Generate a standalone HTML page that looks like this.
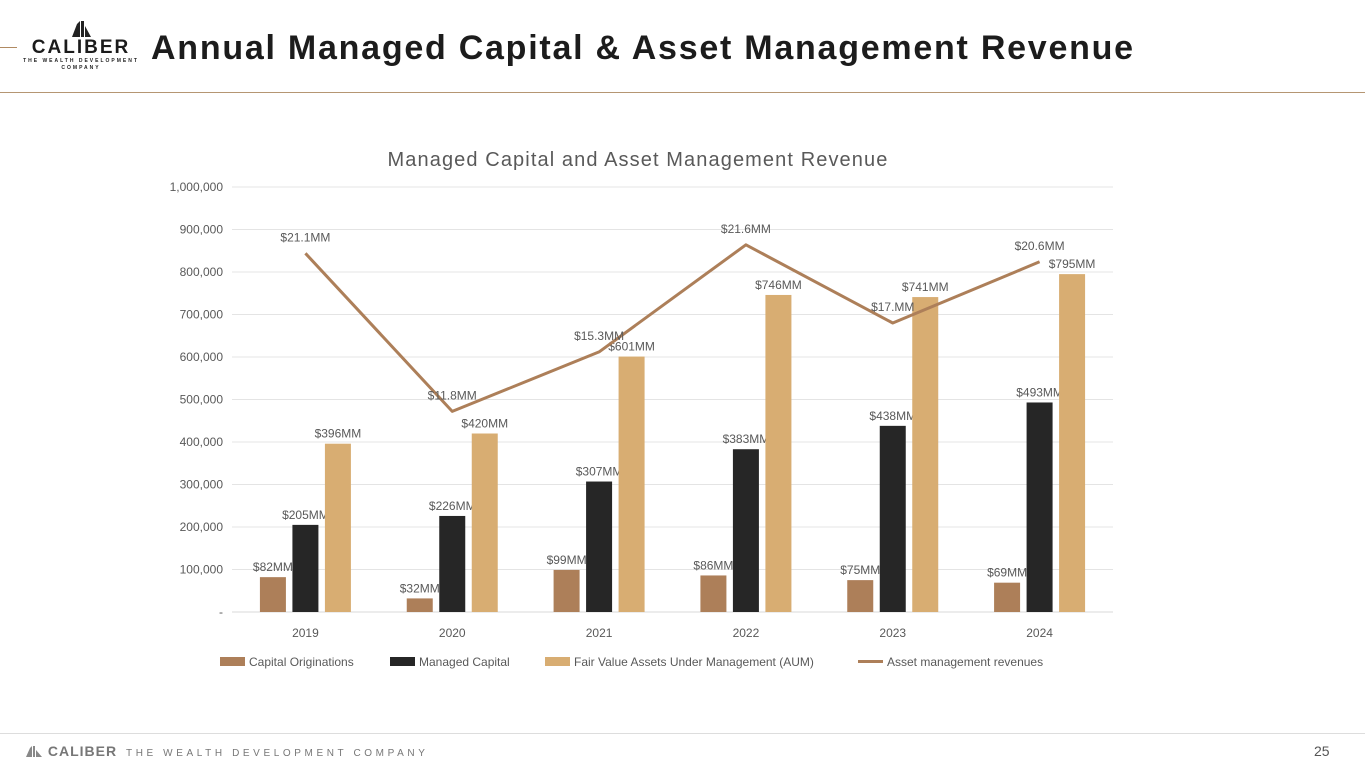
<!DOCTYPE html>
<html><head><meta charset="utf-8"><style>
html,body{margin:0;padding:0;background:#fff;}
body{width:1365px;height:768px;position:relative;overflow:hidden;font-family:"Liberation Sans","DejaVu Sans",sans-serif;}
.abs{position:absolute;}
</style></head><body>
<div class="abs" style="left:0;top:47px;width:17px;height:1px;background:#b08a62"></div>
<div class="abs" style="left:22px;top:18px;width:118px;height:56px;text-align:center">
  <svg width="24" height="20" style="display:block;margin:0 auto"><path d="M3 19 L8 6 L11 3 L11 19 Z M12 3 L15 3 L15 19 L12 19 Z M16 8 L22 19 L16 19Z" fill="#222"/></svg>
  <div style="font-weight:bold;font-size:19px;letter-spacing:2px;color:#1b1b1b;line-height:20px">CALIBER</div>
  <div style="font-size:5px;letter-spacing:2px;color:#222;line-height:7px;font-weight:bold">THE WEALTH DEVELOPMENT<br>COMPANY</div>
</div>
<div class="abs" style="left:151px;top:29px;font-size:34px;font-weight:bold;color:#1c1c1c;white-space:nowrap;letter-spacing:1.75px">Annual Managed Capital &amp; Asset Management Revenue</div>
<div class="abs" style="left:0;top:92px;width:1365px;height:1px;background:#b59673"></div>

<svg class="abs" id="chart" style="left:0;top:0" width="1365" height="768"></svg>

<div class="abs" style="left:0;top:733px;width:1365px;height:1px;background:#ddd"></div>
<div class="abs" style="left:25px;top:743px;font-size:14px;font-weight:bold;color:#777;letter-spacing:1px;white-space:nowrap">
  <svg width="18" height="12" style="vertical-align:-1px"><path d="M1 12 L5 3 L7 1 L7 12Z M8 1 L10 1 L10 12 L8 12Z M11 5 L17 12 L11 12Z" fill="#888"/></svg> CALIBER <span style="font-weight:normal;font-size:10px;letter-spacing:3.6px;margin-left:4px">THE WEALTH DEVELOPMENT COMPANY</span>
</div>
<div class="abs" style="left:1314px;top:743px;font-size:14px;color:#555">25</div>

<script>
const years=["2019","2020","2021","2022","2023","2024"];
const capitalOriginations=[82000,32000,99000,86000,75000,69000];
const managedCapital=[205000,226000,307000,383000,438000,493000];
const aum=[396000,420000,601000,746000,741000,795000];
const revenues=[21.1,11.8,15.3,21.6,17.0,20.6];
const capLabels=["$82MM","$32MM","$99MM","$86MM","$75MM","$69MM"];
const mcLabels=["$205MM","$226MM","$307MM","$383MM","$438MM","$493MM"];
const aumLabels=["$396MM","$420MM","$601MM","$746MM","$741MM","$795MM"];
const revLabels=["$21.1MM","$11.8MM","$15.3MM","$21.6MM","$17.MM","$20.6MM"];
const yTicks=[0,100000,200000,300000,400000,500000,600000,700000,800000,900000,1000000];
const yTickLabels=["-","100,000","200,000","300,000","400,000","500,000","600,000","700,000","800,000","900,000","1,000,000"];
const revScale=40000;

const svg=document.getElementById('chart');
const NS='http://www.w3.org/2000/svg';
const x0=232,x1=1113,yb=612,yt=187;
const y=v=>yb-(v/1000000)*(yb-yt);
const band=(x1-x0)/years.length;
const xc=i=>x0+band*(i+0.5);
function mk(t,a,txt){const e=document.createElementNS(NS,t);for(const k in a)e.setAttribute(k,a[k]);if(txt!==undefined)e.textContent=txt;svg.appendChild(e);return e;}

let t=mk('text',{x:638,y:166,'text-anchor':'middle','font-size':20,'letter-spacing':1.1,fill:'#595959'},'Managed Capital and Asset Management Revenue');



yTicks.forEach((v,i)=>{
  const g=mk('line',{x1:x0,x2:x1,y1:y(v),y2:y(v),stroke:i==0?'#d9d9d9':'#e4e4e4','stroke-width':1});
  
  
  const l=mk('text',{x:223,y:y(v)+4,'text-anchor':'end','font-size':12,fill:'#595959'},yTickLabels[i]);
  
  
});

const bw=26;
const series=[[capitalOriginations,capLabels,'#ad7f59',-32.5],[managedCapital,mcLabels,'#262626',0],[aum,aumLabels,'#d8ad72',32.5]];
years.forEach((yr,i)=>{
  const xl=mk('text',{x:xc(i),y:637,'text-anchor':'middle','font-size':12,fill:'#595959'},yr);
  
  
  series.forEach(([vals,labs,col,off],s)=>{
    const cx=xc(i)+off;
    const r=mk('rect',{x:cx-bw/2,y:y(vals[i]),width:bw,height:yb-y(vals[i]),fill:col});
    
    
    const lb=mk('text',{x:cx,y:y(vals[i])-6,'text-anchor':'middle','font-size':12,fill:'#595959'},labs[i]);
    
    
  });
});

const pts=revenues.map((r,i)=>xc(i)+','+y(r*revScale)).join(' ');
const pl=mk('polyline',{points:pts,fill:'none',stroke:'#ad7f59','stroke-width':3,'stroke-linejoin':'round'});


revenues.forEach((r,i)=>{
  const lb=mk('text',{x:xc(i),y:y(r*revScale)-12,'text-anchor':'middle','font-size':12,fill:'#595959'},revLabels[i]);
  
  
});

const legend=[['rect','#ad7f59','Capital Originations',220],['rect','#262626','Managed Capital',390],['rect','#d8ad72','Fair Value Assets Under Management (AUM)',545],['line','#ad7f59','Asset management revenues',858]];
legend.forEach(([k,c,txt,lx])=>{
  let m;
  if(k=='rect') m=mk('rect',{x:lx,y:657,width:25,height:9,fill:c});
  else m=mk('line',{x1:lx,x2:lx+25,y1:661.5,y2:661.5,stroke:c,'stroke-width':3});
  
  
  const tx=mk('text',{x:lx+29,y:666,'font-size':12,fill:'#595959'},txt);
  
  
});
</script>
</body></html>
